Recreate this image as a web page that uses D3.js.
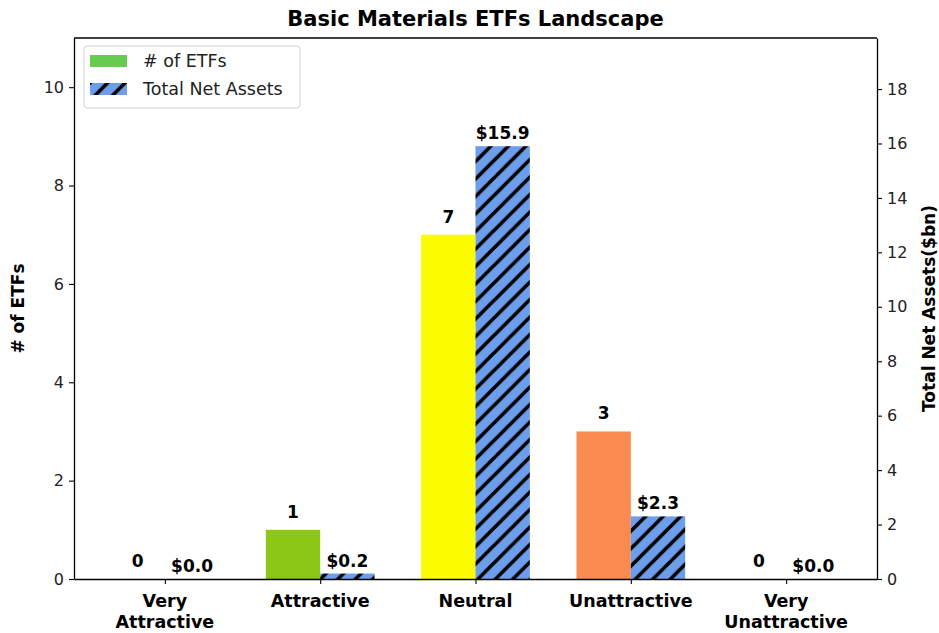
<!DOCTYPE html>
<html>
<head>
<meta charset="utf-8">
<script src="https://cdn.jsdelivr.net/npm/d3@7"></script>
<style>
  body { margin: 0; background: #fff; }
  svg { font-family: "DejaVu Sans", sans-serif; }
</style>
</head>
<body>
<div id="vis"></div>
<script>
const categories = ["Very\nAttractive", "Attractive", "Neutral", "Unattractive", "Very\nUnattractive"];
const etfCounts = [0, 1, 7, 3, 0];
const netAssets = [0.0, 0.2, 15.9, 2.3, 0.0];
const barColors = ["#2ca02c", "#8cc617", "#fcfc00", "#f98a50", "#d7191c"];
const leftTicks = [0, 2, 4, 6, 8, 10];
const rightTicks = [0, 2, 4, 6, 8, 10, 12, 14, 16, 18];

const W = 939, H = 633;
const margin = { top: 38, right: 62, bottom: 54, left: 74 };
const width = W - margin.left - margin.right;
const height = H - margin.top - margin.bottom;
const barW = 0.35;

const svg = d3.select("#vis")
  .append("svg")
    .attr("width", W)
    .attr("height", H);

// hatch pattern for the assets bars
const defs = svg.append("defs");
const hs = 17.5;
const pat = defs.append("pattern")
    .attr("id", "hatch")
    .attr("patternUnits", "userSpaceOnUse")
    .attr("width", hs)
    .attr("height", hs);
pat.append("rect")
    .attr("width", hs).attr("height", hs)
    .attr("fill", "#6d9eeb");
pat.append("path")
    .attr("d", `M-3,3 l6,-6 M0,${hs} l${hs},-${hs} M${hs - 3},${hs + 3} l6,-6`)
    .attr("stroke", "#000")
    .attr("stroke-width", 3.6);

const g = svg.append("g")
    .attr("transform", `translate(${margin.left}, ${margin.top})`);

const x = d3.scaleLinear()
    .domain([-0.585, categories.length - 1 + 0.585])
    .range([0, width]);

const yLeft = d3.scaleLinear()
    .domain([0, 11])
    .range([height, 0]);

const yRight = d3.scaleLinear()
    .domain([0, 19.875])
    .range([height, 0]);

// bars: # of ETFs
g.selectAll(".bar-count")
  .data(etfCounts)
  .enter().append("rect")
    .attr("class", "bar-count")
    .attr("x", (d, i) => x(i - barW))
    .attr("width", x(barW) - x(0))
    .attr("y", d => yLeft(d))
    .attr("height", d => height - yLeft(d))
    .attr("fill", (d, i) => barColors[i]);

// bars: total net assets
g.selectAll(".bar-assets")
  .data(netAssets)
  .enter().append("rect")
    .attr("class", "bar-assets")
    .attr("x", (d, i) => x(i))
    .attr("width", x(barW) - x(0))
    .attr("y", d => yRight(d))
    .attr("height", d => height - yRight(d))
    .attr("fill", "url(#hatch)");

// value labels
g.selectAll(".lbl-count")
  .data(etfCounts)
  .enter().append("text")
    .attr("x", (d, i) => x(i - barW / 2))
    .attr("y", d => yLeft(d) - 12)
    .attr("text-anchor", "middle")
    .style("font-size", "17px")
    .style("font-weight", "bold")
    .text(d => d);

g.selectAll(".lbl-assets")
  .data(netAssets)
  .enter().append("text")
    .attr("x", (d, i) => x(i + barW / 2))
    .attr("y", d => yRight(d) - 7)
    .attr("text-anchor", "middle")
    .style("font-size", "17px")
    .style("font-weight", "bold")
    .text(d => "$" + d.toFixed(1));

// axes
const axLeft = g.append("g")
    .call(d3.axisLeft(yLeft).tickValues(leftTicks).tickSize(5).tickSizeOuter(0).tickPadding(5));
const axRight = g.append("g")
    .attr("transform", `translate(${width}, 0)`)
    .call(d3.axisRight(yRight).tickValues(rightTicks).tickSize(5).tickSizeOuter(0).tickPadding(5));
const axBottom = g.append("g")
    .attr("transform", `translate(0, ${height})`)
    .call(d3.axisBottom(x).tickValues(d3.range(categories.length)).tickSize(5).tickSizeOuter(0).tickFormat(""));

[axLeft, axRight].forEach(a => {
  a.selectAll("text").style("font-size", "16px").attr("fill", "#222").style("font-family", "DejaVu Sans");
});
[axLeft, axRight, axBottom].forEach(a => {
  a.select(".domain").attr("stroke", "#000").attr("stroke-width", 1.3);
  a.selectAll(".tick line").attr("stroke", "#000").attr("stroke-width", 1.1);
});

// top spine
g.append("line")
    .attr("x1", 0).attr("x2", width)
    .attr("y1", 0).attr("y2", 0)
    .attr("stroke", "#000").attr("stroke-width", 1.3);

// x category labels (two lines where needed)
const xl = g.selectAll(".xlab")
  .data(categories)
  .enter().append("text")
    .attr("class", "xlab")
    .attr("text-anchor", "middle")
    .style("font-size", "17.5px")
    .style("font-weight", "bold")
    .attr("transform", (d, i) => `translate(${x(i)}, ${height + 28})`);
xl.selectAll("tspan")
  .data(d => d.split("\n"))
  .enter().append("tspan")
    .attr("x", 0)
    .attr("dy", (d, i) => i === 0 ? 0 : 21)
    .text(d => d);

// axis titles
svg.append("text")
    .attr("transform", `translate(24, ${margin.top + height / 2}) rotate(-90)`)
    .attr("text-anchor", "middle")
    .style("font-size", "17px")
    .style("font-weight", "bold")
    .text("# of ETFs");

svg.append("text")
    .attr("transform", `translate(935, ${margin.top + height / 2}) rotate(-90)`)
    .attr("text-anchor", "middle")
    .style("font-size", "17px")
    .style("font-weight", "bold")
    .text("Total Net Assets($bn)");

// title
svg.append("text")
    .attr("x", margin.left + width / 2)
    .attr("y", 26)
    .attr("text-anchor", "middle")
    .style("font-size", "21px")
    .style("font-weight", "bold")
    .text("Basic Materials ETFs Landscape");

// legend
const legend = g.append("g").attr("transform", "translate(10, 8)");
legend.append("rect")
    .attr("width", 216).attr("height", 62)
    .attr("rx", 3)
    .attr("fill", "#fff")
    .attr("stroke", "#d0d0d0");
const legendItems = [
  { label: "# of ETFs", fill: "#66cc4f" },
  { label: "Total Net Assets", fill: "url(#hatch)" }
];
const li = legend.selectAll(".li")
  .data(legendItems)
  .enter().append("g")
    .attr("transform", (d, i) => `translate(6, ${9 + i * 28})`);
li.append("rect")
    .attr("width", 37).attr("height", 12)
    .attr("fill", d => d.fill);
li.append("text")
    .attr("x", 53).attr("y", 12)
    .style("font-size", "17.5px")
    .attr("fill", "#222")
    .text(d => d.label);
</script>
</body>
</html>
